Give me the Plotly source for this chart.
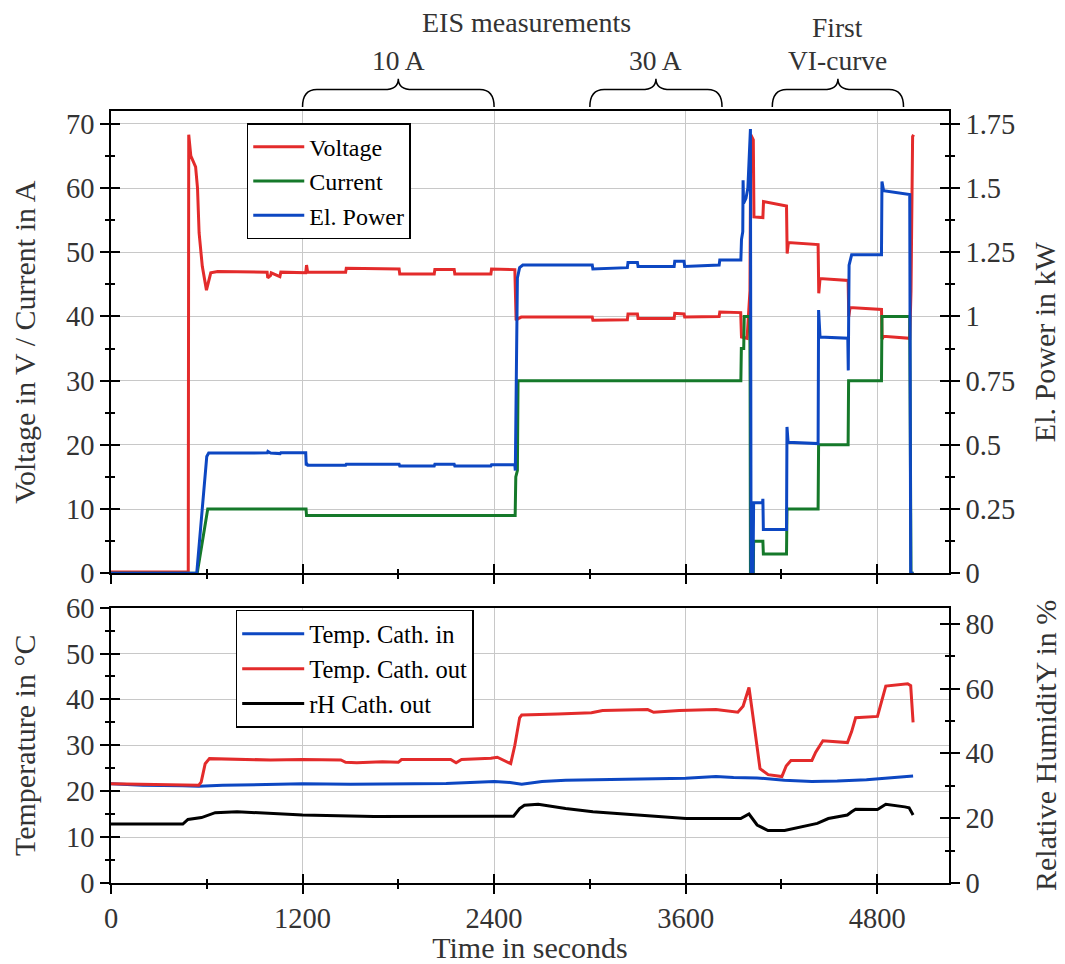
import plotly.graph_objects as go

FONT = "Liberation Serif"
TXT = "#333333"

# ---------------- data (time in s, value) ----------------
voltage_pts = [(0, 0.2), (484, 0.2), (487, 68.3), (500, 65.0), (530, 63.3), (542, 60.0), (552, 53.0),
               (572, 47.8), (598, 44.1), (625, 46.8), (668, 47.0), (978, 46.9), (982, 46.0), (1000, 46.4),
               (1004, 46.8), (1058, 46.2), (1064, 46.9), (1220, 46.8), (1225, 48.0), (1232, 46.9),
               (1470, 46.9), (1474, 47.5), (1805, 47.4), (1809, 46.6), (2025, 46.6), (2029, 47.3),
               (2150, 47.3), (2154, 46.6), (2380, 46.6), (2384, 47.4), (2530, 47.3), (2538, 39.4),
               (2548, 39.6), (2570, 39.9), (3015, 39.9), (3019, 39.4), (3235, 39.5), (3239, 40.4),
               (3298, 40.4), (3302, 39.7), (3528, 39.7), (3532, 40.5), (3590, 40.4), (3594, 39.9),
               (3810, 40.0), (3814, 40.7), (3945, 40.6), (3950, 36.8), (3985, 36.6), (4003, 44.0),
               (4008, 68.3), (4014, 68.0), (4024, 67.5), (4028, 55.5), (4084, 55.4), (4088, 57.9),
               (4232, 57.2), (4236, 49.8), (4244, 51.5), (4430, 51.2), (4434, 43.6), (4442, 45.9),
               (4618, 45.6), (4622, 40.0), (4630, 41.4), (4827, 41.1), (4831, 36.5), (4840, 36.9),
               (5004, 36.6), (5012, 44.0), (5022, 68.0), (5028, 68.3)]

current_pts = [(0, 0), (540, 0), (606, 10), (1222, 10), (1225, 9), (2532, 9), (2536, 15), (2546, 16),
               (2550, 30), (3946, 30), (3949, 35), (3964, 35), (3967, 40), (4002, 40), (4004, 30),
               (4006, 0), (4024, 0), (4026, 5), (4084, 5), (4087, 3), (4232, 3), (4235, 10), (4430, 10),
               (4433, 20), (4618, 20), (4621, 30), (4827, 30), (4830, 40), (5004, 40), (5007, 30),
               (5012, 0), (5028, 0)]

power_pts = [(0, 0), (537, 0), (600, 0.455), (612, 0.468), (980, 0.469), (983, 0.474), (1000, 0.468),
             (1060, 0.466), (1064, 0.469), (1220, 0.469), (1223, 0.42), (1228, 0.425), (1232, 0.421),
             (1470, 0.421), (1474, 0.425), (1805, 0.425), (1809, 0.418), (2025, 0.418), (2029, 0.425),
             (2150, 0.425), (2154, 0.418), (2380, 0.418), (2384, 0.423), (2530, 0.423), (2533, 0.40),
             (2537, 0.60), (2540, 0.80), (2546, 1.15), (2560, 1.19), (2580, 1.20), (3015, 1.20),
             (3019, 1.185), (3235, 1.19), (3239, 1.21), (3298, 1.21), (3302, 1.195), (3528, 1.195),
             (3532, 1.215), (3590, 1.215), (3594, 1.195), (3810, 1.20), (3814, 1.22), (3946, 1.22),
             (3950, 1.30), (3958, 1.33), (3960, 1.53), (3963, 1.44), (3978, 1.46), (3990, 1.50),
             (4006, 1.73), (4010, 0), (4013, 0.28), (4016, 0), (4019, 0.28), (4022, 0), (4026, 0.275),
             (4082, 0.275), (4084, 0.29), (4087, 0.17), (4232, 0.17), (4235, 0.57), (4242, 0.51),
             (4430, 0.505), (4433, 1.025), (4442, 0.92), (4616, 0.915), (4619, 0.79), (4624, 1.20),
             (4640, 1.24), (4827, 1.24), (4830, 1.525), (4840, 1.49), (5004, 1.475), (5010, 0),
             (5028, 0)]

temp_in_pts = [(0, 21.6), (200, 21.3), (450, 21.2), (550, 21.1), (700, 21.3), (1000, 21.5), (1200, 21.6),
               (1500, 21.5), (1800, 21.6), (2100, 21.7), (2402, 22.1), (2500, 21.9), (2573, 21.5),
               (2700, 22.1), (2848, 22.4), (3100, 22.5), (3362, 22.7), (3600, 22.8), (3790, 23.2),
               (3900, 23.0), (4047, 22.9), (4219, 22.4), (4391, 22.1), (4550, 22.2), (4733, 22.5),
               (4900, 23.0), (5025, 23.3)]

temp_out_pts = [(0, 21.6), (300, 21.4), (550, 21.3), (565, 22.0), (590, 26.0), (617, 27.1), (800, 27.0),
                (1000, 26.8), (1200, 26.9), (1440, 26.8), (1470, 26.3), (1540, 26.2), (1700, 26.4),
                (1800, 26.3), (1820, 26.9), (2128, 26.9), (2162, 26.2), (2196, 26.9), (2380, 27.2),
                (2420, 27.4), (2504, 26.0), (2530, 30.0), (2560, 36.0), (2573, 36.6), (2800, 36.8),
                (3010, 37.1), (3080, 37.6), (3362, 37.8), (3400, 37.2), (3560, 37.6), (3790, 37.8),
                (3927, 37.2), (3960, 38.5), (3997, 42.6), (4031, 34.0), (4066, 24.9), (4117, 23.6),
                (4203, 23.2), (4230, 25.5), (4260, 26.7), (4391, 26.7), (4415, 28.5), (4460, 31.0),
                (4614, 30.6), (4640, 33.0), (4665, 36.0), (4802, 36.3), (4825, 39.5), (4854, 42.9),
                (4991, 43.4), (5010, 43.0), (5025, 35.0)]

rh_pts = [(0, 18.2), (450, 18.2), (482, 19.6), (567, 20.2), (653, 21.7), (790, 22.0), (1200, 21.0),
          (1647, 20.5), (2402, 20.6), (2522, 20.6), (2560, 23.0), (2590, 24.0), (2676, 24.3), (2848, 23.0),
          (3019, 22.0), (3362, 20.8), (3602, 19.9), (3945, 19.9), (3997, 21.3), (4048, 17.9), (4116, 16.2),
          (4220, 16.2), (4322, 17.4), (4425, 18.4), (4494, 19.9), (4613, 21.0), (4640, 22.0), (4665, 22.8),
          (4802, 22.7), (4854, 24.3), (4973, 23.5), (5000, 23.2), (5025, 21.0)]

# phase brackets above the top panel (start s, end s) and their labels
brace_spans = [(1200, 2400), (3000, 3828), (4143, 4965)]
brace_labels = ["10 A", "30 A", "VI-curve"]
group_title = "EIS measurements"
group_title_x = 2600
vi_title = "First"

x_range = [0, 5250]
top_left_range = [0, 72]
top_right_range = [0, 1.8]
bot_left_range = [0, 60]
bot_right_range = [0, 85]


def split(pts):
    return [p[0] for p in pts], [p[1] for p in pts]


RED = "#e32b2b"
GREEN = "#15792a"
BLUE = "#0d47c2"
GRID = "#c8c8c8"

fig = go.Figure()

tx, ty = split(voltage_pts)
fig.add_trace(go.Scatter(x=tx, y=ty, name="Voltage", mode="lines", line=dict(color=RED, width=3),
                         xaxis="x", yaxis="y", legend="legend"))
tx, ty = split(current_pts)
fig.add_trace(go.Scatter(x=tx, y=ty, name="Current", mode="lines", line=dict(color=GREEN, width=3),
                         xaxis="x", yaxis="y", legend="legend"))
tx, ty = split(power_pts)
fig.add_trace(go.Scatter(x=tx, y=ty, name="El. Power", mode="lines", line=dict(color=BLUE, width=3),
                         xaxis="x", yaxis="y2", legend="legend"))

tx, ty = split(temp_in_pts)
fig.add_trace(go.Scatter(x=tx, y=ty, name="Temp. Cath. in", mode="lines", line=dict(color=BLUE, width=3),
                         xaxis="x2", yaxis="y3", legend="legend2"))
tx, ty = split(temp_out_pts)
fig.add_trace(go.Scatter(x=tx, y=ty, name="Temp. Cath. out", mode="lines", line=dict(color=RED, width=3),
                         xaxis="x2", yaxis="y3", legend="legend2"))
tx, ty = split(rh_pts)
fig.add_trace(go.Scatter(x=tx, y=ty, name="rH Cath. out", mode="lines", line=dict(color="black", width=3),
                         xaxis="x2", yaxis="y4", legend="legend2"))

# invisible helper traces so the inward tick axes get drawn
for xa, ya in [("x3", "y"), ("x", "y5"), ("x", "y6"), ("x4", "y3"), ("x2", "y7"), ("x2", "y8")]:
    fig.add_trace(go.Scatter(x=[None], y=[None], xaxis=xa, yaxis=ya, showlegend=False, hoverinfo="skip"))

TOP_DOM = [0.4012, 1.0]
BOT_DOM = [0.0, 0.3567]
TICK_SIZE = 28.5
TITLE_SIZE = 30


def axis(rng, dtick, mdtick, **kw):
    d = dict(range=rng, tick0=0, dtick=dtick, showline=True, linecolor="black", linewidth=1.5,
             ticks="outside", ticklen=9, tickwidth=1.5, tickcolor="black",
             tickfont=dict(family=FONT, size=TICK_SIZE, color=TXT), zeroline=False, automargin=False,
             showgrid=False,
             minor=dict(tick0=0, dtick=mdtick, ticks="outside", ticklen=4, tickwidth=1.5,
                        tickcolor="black", showgrid=False))
    d.update(kw)
    return d


def inner(rng, dtick, mdtick, **kw):
    d = dict(range=rng, tick0=0, dtick=dtick, showline=False, ticks="inside", ticklen=9, tickwidth=1.5,
             tickcolor="black", showticklabels=False, showgrid=False, zeroline=False, automargin=False,
             minor=dict(tick0=0, dtick=mdtick, ticks="inside", ticklen=4, tickwidth=1.5,
                        tickcolor="black", showgrid=False))
    d.update(kw)
    return d


def title(text, standoff):
    return dict(text=text, font=dict(family=FONT, size=TITLE_SIZE, color=TXT), standoff=standoff)


fig.update_layout(
    width=1065, height=964, template="none",
    margin=dict(l=111, r=116, t=111, b=81),
    paper_bgcolor="white", plot_bgcolor="white",
    font=dict(family=FONT, color=TXT),
    xaxis=axis(x_range, 1200, 600, domain=[0, 1], anchor="y", mirror=True, showticklabels=False,
               showgrid=True, gridcolor=GRID, gridwidth=1),
    yaxis=axis(top_left_range, 10, 5, domain=TOP_DOM, anchor="x", showgrid=True, gridcolor=GRID,
               gridwidth=1, title=title("Voltage in V / Current in A", 22)),
    yaxis2=axis(top_right_range, 0.25, 0.125, overlaying="y", side="right", anchor="x",
                title=title("El. Power in kW", 20)),
    xaxis2=axis(x_range, 1200, 600, domain=[0, 1], anchor="y3", mirror=True, showgrid=True,
                gridcolor=GRID, gridwidth=1, title=title("Time in seconds", 10)),
    yaxis3=axis(bot_left_range, 10, 5, domain=BOT_DOM, anchor="x2", showgrid=True, gridcolor=GRID,
                gridwidth=1, title=title("Temperature in °C", 22)),
    yaxis4=axis(bot_right_range, 20, 10, overlaying="y3", side="right", anchor="x2",
                title=title("Relative HumiditY in %", 42)),
    xaxis3=inner(x_range, 1200, 600, overlaying="x", anchor="y"),
    xaxis4=inner(x_range, 1200, 600, overlaying="x2", anchor="y3"),
    yaxis5=inner(top_left_range, 10, 5, overlaying="y", side="left", anchor="x"),
    yaxis6=inner(top_right_range, 0.25, 0.125, overlaying="y", side="right", anchor="x"),
    yaxis7=inner(bot_left_range, 10, 5, overlaying="y3", side="left", anchor="x2"),
    yaxis8=inner(bot_right_range, 20, 10, overlaying="y3", side="right", anchor="x2"),
    legend=dict(x=0.162, y=0.9841, xanchor="left", yanchor="top", bgcolor="white",
                bordercolor="black", borderwidth=1.5, font=dict(family=FONT, size=24, color="black"),
                itemwidth=51, tracegroupgap=0),
    legend2=dict(x=0.1488, y=0.3537, xanchor="left", yanchor="top", bgcolor="white",
                 bordercolor="black", borderwidth=1.5, font=dict(family=FONT, size=24.5, color="black"),
                 itemwidth=62, tracegroupgap=0),
    showlegend=True,
)

# braces above the top panel
Y_END, Y_MID, Y_TIP = 1.0052, 1.0277, 1.0419
R = 90
shapes = []
for a, b in brace_spans:
    c = (a + b) / 2
    path = (f"M{a},{Y_END} Q{a},{Y_MID} {a + R},{Y_MID} L{c - R},{Y_MID} Q{c},{Y_MID} {c},{Y_TIP} "
            f"Q{c},{Y_MID} {c + R},{Y_MID} L{b - R},{Y_MID} Q{b},{Y_MID} {b},{Y_END}")
    shapes.append(dict(type="path", xref="x", yref="paper", path=path,
                       line=dict(color="black", width=1.5)))
fig.update_layout(shapes=shapes)

ann_font = dict(family=FONT, size=27.5, color=TXT)
annotations = []
for (a, b), lab in zip(brace_spans, brace_labels):
    annotations.append(dict(x=(a + b) / 2, y=1.066, xref="x", yref="paper", text=lab, showarrow=False,
                            font=ann_font, xanchor="center", yanchor="middle"))
annotations.append(dict(x=(brace_spans[2][0] + brace_spans[2][1]) / 2, y=1.108, xref="x", yref="paper",
                        text=vi_title, showarrow=False, font=ann_font, xanchor="center", yanchor="middle"))
annotations.append(dict(x=group_title_x, y=1.115, xref="x", yref="paper",
                        text=group_title, showarrow=False, font=dict(family=FONT, size=28, color=TXT),
                        xanchor="center", yanchor="middle"))
fig.update_layout(annotations=annotations)

fig.write_html("out.html")
